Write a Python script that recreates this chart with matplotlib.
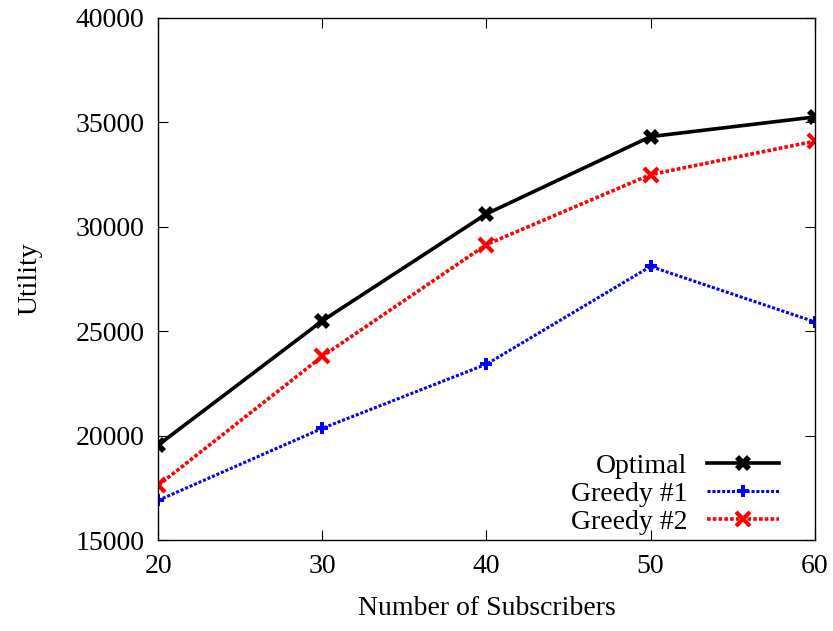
import matplotlib
matplotlib.use('Agg')
import matplotlib.pyplot as plt

plt.rcParams['font.family'] = ['Liberation Serif', 'DejaVu Serif']
plt.rcParams['font.size'] = 20

subscribers = [20, 30, 40, 50, 60]
optimal = [19550, 25500, 30620, 34320, 35260]
greedy1 = [16900, 20350, 23420, 28100, 25450]
greedy2 = [17620, 23800, 29150, 32500, 34100]

fig = plt.figure(figsize=(8.33, 6.31), dpi=100)
ax = fig.add_axes([0.19, 0.1442, 0.788, 0.8273])

ax.plot(subscribers, optimal, color='black', lw=2.6, marker='X', ms=12,
        mew=0, label='Optimal')
ax.plot(subscribers, greedy1, color='#0000ff', lw=2.2, ls=(0, (1, 0.6)),
        marker='P', ms=9, mew=0, label='Greedy #1')
ax.plot(subscribers, greedy2, color='#ff0000', lw=2.6, ls=(0, (1, 0.6)),
        marker='x', ms=10, mew=3, label='Greedy #2')

ax.set_xlim(20, 60)
ax.set_ylim(15000, 40000)
ax.set_xticks([20, 30, 40, 50, 60])
ax.set_yticks(range(15000, 40001, 5000))
ax.tick_params(direction='in', length=7, width=0.8, top=True, right=True, pad=10)
for s in ax.spines.values():
    s.set_linewidth(1.0)

ax.set_xlabel('Number of Subscribers', labelpad=12)
ax.set_ylabel('Utility', labelpad=24)

leg = ax.legend(loc='lower right', bbox_to_anchor=(0.963, -0.012), frameon=False,
                markerfirst=False, handlelength=2.6, labelspacing=0.1,
                handletextpad=0.7, borderaxespad=0.0)

fig.savefig('out.png', dpi=100)
